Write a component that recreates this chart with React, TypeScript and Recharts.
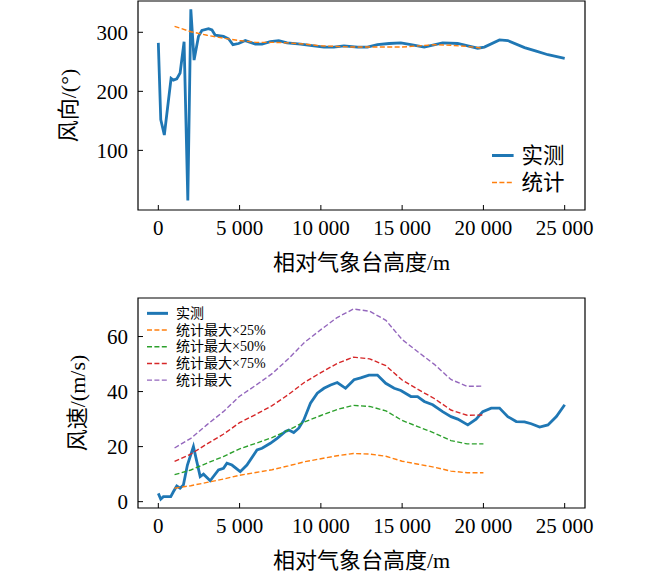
import { LineChart, Line, XAxis, YAxis, ReferenceArea, Legend, Label } from 'recharts';

// 风向 (top panel)
const dirHeights = [0, 150, 370, 785, 925, 1135, 1340, 1585, 1815, 2000, 2200, 2470, 2680, 3090, 3300, 3500, 4010, 4320, 4590, 4940, 5350, 5970, 6380, 6890, 7410, 7920, 8750, 9570, 10190, 10800, 11420, 12250, 12860, 13480, 14200, 14920, 15540, 16360, 17490, 18420, 19040, 19650, 20060, 20990, 21500, 22530, 23250, 23970, 25000];
const dirMeasured = [282, 152, 126, 222, 219, 221, 231, 284, 15, 339, 253, 293, 303, 306, 304, 295, 293, 289, 279, 281, 286, 280, 280, 284, 286, 282, 280, 277, 275, 275, 277, 275, 275, 279, 281, 282, 279, 275, 282, 281, 277, 273, 275, 287, 286, 274, 268, 262, 256];

const statHeights = [1000, 2000, 3000, 4000, 5000, 6000, 7000, 8000, 9000, 10000, 11000, 12000, 13000, 14000, 15000, 16000, 17000, 18000, 19000, 20000];
const dirStat = [310, 301, 295, 290, 286, 283, 283, 282, 280, 277, 276, 275, 275, 275, 275, 277, 279, 278, 276, 273];

// 风速 (bottom panel)
const speedHeights = [0, 150, 310, 765, 925, 1135, 1340, 1545, 1790, 2160, 2575, 2780, 3190, 3700, 4010, 4220, 4530, 5040, 5450, 6070, 6380, 6890, 7310, 7820, 8025, 8330, 8640, 8950, 9360, 9780, 10190, 10600, 11010, 11520, 12040, 12450, 12960, 13480, 13990, 14510, 14920, 15540, 15950, 16360, 16880, 17490, 18010, 18420, 19040, 19550, 19960, 20480, 20990, 21500, 22020, 22530, 22940, 23460, 23970, 24490, 25000];
const speedMeasured = [3.0, 0.9, 1.8, 1.8, 3.6, 5.7, 4.9, 6.1, 13.3, 20, 9.1, 10, 7.6, 11.5, 12.1, 14, 13.3, 10.9, 13.3, 18.8, 19.4, 21.2, 23, 25.5, 26, 25.1, 26.7, 29.7, 35.8, 39.4, 41.2, 42.4, 43.3, 41.2, 44.3, 45, 46, 46, 43, 41.2, 40.4, 38.2, 38.2, 36.4, 35.2, 32.7, 30.9, 30, 27.9, 30, 32.7, 34, 34, 30.9, 29.1, 29, 28.3, 27.1, 27.9, 30.9, 35.2];
const speedMax = [19.5, 23, 28, 32.7, 38.3, 42.3, 46.5, 51.9, 57.9, 62.5, 66.9, 70, 69.2, 65.9, 58.9, 54.3, 49.8, 44.4, 41.9, 42];
const speed75 = [14.6, 17.3, 21, 24.5, 28.7, 31.7, 34.9, 38.9, 43.4, 46.9, 50.2, 52.5, 51.9, 49.4, 44.2, 40.7, 37.4, 33.3, 31.4, 31.5];
const speed50 = [9.8, 11.5, 14, 16.4, 19.2, 21.2, 23.3, 26, 29, 31.3, 33.5, 35, 34.6, 33, 29.5, 27.2, 24.9, 22.2, 21, 21];
const speed25 = [4.9, 5.8, 7, 8.2, 9.6, 10.6, 11.6, 13, 14.5, 15.6, 16.7, 17.5, 17.3, 16.5, 14.7, 13.6, 12.5, 11.1, 10.5, 10.5];

const heightTicks = [0, 5000, 10000, 15000, 20000, 25000];
const dirTicks = [100, 200, 300];
const speedTicks = [0, 20, 40, 60];

const X_DOMAIN: [number, number] = [-1250, 26250];
const DIR_DOMAIN: [number, number] = [-1, 353];
const SPEED_DOMAIN: [number, number] = [-2.3, 74];

const rows = (xs: number[], ys: number[]) => xs.map((h, i) => ({ h, v: ys[i] }));

const FONT = "'Liberation Serif', 'Noto Sans CJK SC', serif";
const tickStyle = { fontFamily: FONT, fontSize: 21, fill: '#000' };

const fmtHeight = (v: number) =>
  v >= 1000 ? `${Math.floor(v / 1000)} ${String(v % 1000).padStart(3, '0')}` : String(v);

type Series = { name: string; data: { h: number; v: number }[]; color: string; width: number; dash?: string };

const dirSeries: Series[] = [
  { name: '实测', data: rows(dirHeights, dirMeasured), color: '#1f77b4', width: 2.8 },
  { name: '统计', data: rows(statHeights, dirStat), color: '#ff7f0e', width: 1.4, dash: '5 2.4' },
];

const speedSeries: Series[] = [
  { name: '实测', data: rows(speedHeights, speedMeasured), color: '#1f77b4', width: 2.8 },
  { name: '统计最大×25%', data: rows(statHeights, speed25), color: '#ff7f0e', width: 1.4, dash: '5 2.4' },
  { name: '统计最大×50%', data: rows(statHeights, speed50), color: '#2ca02c', width: 1.4, dash: '5 2.4' },
  { name: '统计最大×75%', data: rows(statHeights, speed75), color: '#d62728', width: 1.4, dash: '5 2.4' },
  { name: '统计最大', data: rows(statHeights, speedMax), color: '#9467bd', width: 1.4, dash: '5 2.4' },
];

const legendContent = (series: Series[], rowH: number, fontSize: number, handle: number, gap: number) => () => (
  <svg width={220} height={rowH * series.length} style={{ display: 'block' }}>
    {series.map((s, i) => {
      const cy = rowH * (i + 0.5);
      return (
        <g key={s.name}>
          <line x1={0} x2={handle} y1={cy} y2={cy} stroke={s.color} strokeWidth={s.dash ? s.width : 3} strokeDasharray={s.dash} />
          <text x={handle + gap} y={cy} dominantBaseline="central" style={{ fontFamily: FONT, fontSize, fill: '#000' }}>
            {s.name}
          </text>
        </g>
      );
    })}
  </svg>
);

const yTitle = (text: string, cx: number) => (props: any) => {
  const vb = props.viewBox || {};
  const cy = vb.y + vb.height / 2;
  return (
    <text x={cx} y={cy} transform={`rotate(-90 ${cx} ${cy})`} textAnchor="middle" dominantBaseline="central"
      style={{ fontFamily: FONT, fontSize: 22, fill: '#000' }}>
      {text}
    </text>
  );
};

const xTitle = (text: string, baseline: number) => () => (
  <text x={361.5} y={baseline} textAnchor="middle" style={{ fontFamily: FONT, fontSize: 22, fill: '#000' }}>
    {text}
  </text>
);

export default function App() {
  return (
    <div style={{ position: 'absolute', left: 0, top: 0, width: 650, height: 577, background: '#fff' }}>
      <div style={{ position: 'absolute', left: 0, top: 0 }}>
        <LineChart width={650} height={290} margin={{ top: 1, right: 65, bottom: 0, left: 0 }}>
          <XAxis dataKey="h" type="number" domain={X_DOMAIN} ticks={heightTicks} allowDataOverflow
            tickFormatter={fmtHeight} tick={tickStyle} tickSize={-5} tickMargin={15} height={80}
            axisLine={false} tickLine={{ stroke: '#000' }} interval={0}>
            <Label content={xTitle('相对气象台高度/m', 269.5)} />
          </XAxis>
          <YAxis type="number" domain={DIR_DOMAIN} ticks={dirTicks} allowDataOverflow
            tick={tickStyle} tickSize={-5} tickMargin={15} width={138}
            axisLine={false} tickLine={{ stroke: '#000' }} interval={0}>
            <Label content={yTitle('风向/(°)', 68)} />
          </YAxis>
          <ReferenceArea x1={X_DOMAIN[0]} x2={X_DOMAIN[1]} y1={DIR_DOMAIN[0]} y2={DIR_DOMAIN[1]}
            fill="none" fillOpacity={0} stroke="#000" strokeWidth={1.2} strokeOpacity={1} />
          {dirSeries.map((s) => (
            <Line key={s.name} data={s.data} dataKey="v" name={s.name} type="linear" stroke={s.color}
              strokeWidth={s.width} strokeDasharray={s.dash} dot={false} activeDot={false} isAnimationActive={false} />
          ))}
          <Legend layout="vertical" align="center" verticalAlign="middle"
            wrapperStyle={{ left: 491.7, top: 141.5, width: 220 }}
            content={legendContent(dirSeries, 27, 21.5, 21.6, 8)} />
        </LineChart>
      </div>
      <div style={{ position: 'absolute', left: 0, top: 290 }}>
        <LineChart width={650} height={287} margin={{ top: 8, right: 65, bottom: 0, left: 0 }}>
          <XAxis dataKey="h" type="number" domain={X_DOMAIN} ticks={heightTicks} allowDataOverflow
            tickFormatter={fmtHeight} tick={tickStyle} tickSize={-5} tickMargin={15} height={69}
            axisLine={false} tickLine={{ stroke: '#000' }} interval={0}>
            <Label content={xTitle('相对气象台高度/m', 277.5)} />
          </XAxis>
          <YAxis type="number" domain={SPEED_DOMAIN} ticks={speedTicks} allowDataOverflow
            tick={tickStyle} tickSize={-5} tickMargin={15} width={138}
            axisLine={false} tickLine={{ stroke: '#000' }} interval={0}>
            <Label content={yTitle('风速/(m/s)', 77)} />
          </YAxis>
          <ReferenceArea x1={X_DOMAIN[0]} x2={X_DOMAIN[1]} y1={SPEED_DOMAIN[0]} y2={SPEED_DOMAIN[1]}
            fill="none" fillOpacity={0} stroke="#000" strokeWidth={1.2} strokeOpacity={1} />
          {speedSeries.map((s) => (
            <Line key={s.name} data={s.data} dataKey="v" name={s.name} type="linear" stroke={s.color}
              strokeWidth={s.width} strokeDasharray={s.dash} dot={false} activeDot={false} isAnimationActive={false} />
          ))}
          <Legend layout="vertical" align="center" verticalAlign="middle"
            wrapperStyle={{ left: 147, top: 15, width: 220 }}
            content={legendContent(speedSeries, 16.7, 14, 21, 8)} />
        </LineChart>
      </div>
    </div>
  );
}
